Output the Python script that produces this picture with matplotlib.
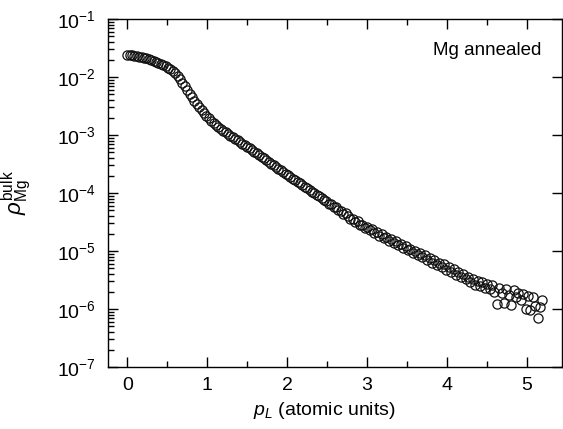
import numpy as np
import matplotlib
matplotlib.use('agg')
import matplotlib.pyplot as plt
from matplotlib.ticker import LogLocator, MultipleLocator, NullFormatter, LogFormatterSciNotation

plt.rcParams['font.family'] = 'Liberation Sans'
plt.rcParams['mathtext.fontset'] = 'custom'
plt.rcParams['mathtext.rm'] = 'Liberation Sans'
plt.rcParams['mathtext.it'] = 'Liberation Sans:italic'
plt.rcParams['mathtext.bf'] = 'Liberation Sans:bold'

# momentum p_L (a.u.)
p_L = [
    0.00, 0.03, 0.06, 0.09, 0.12, 0.15, 0.18, 0.21, 0.24, 0.27, 0.30, 0.33, 0.36, 0.39, 0.42, 0.45, 0.48, 0.51,
    0.54, 0.57, 0.60, 0.63, 0.66, 0.69, 0.72, 0.75, 0.78, 0.81, 0.84, 0.87, 0.90, 0.93, 0.96, 0.99, 1.02, 1.05,
    1.08, 1.11, 1.14, 1.17, 1.20, 1.23, 1.26, 1.29, 1.32, 1.35, 1.38, 1.41, 1.44, 1.47, 1.50, 1.53, 1.56, 1.59,
    1.62, 1.65, 1.68, 1.71, 1.74, 1.77, 1.80, 1.83, 1.86, 1.89, 1.92, 1.95, 1.98, 2.01, 2.04, 2.07, 2.10, 2.13,
    2.16, 2.19, 2.22, 2.25, 2.28, 2.31, 2.34, 2.37, 2.40, 2.43, 2.46, 2.49, 2.52, 2.55, 2.58, 2.61, 2.64, 2.67,
    2.70, 2.73, 2.76, 2.79, 2.82, 2.85, 2.88, 2.91, 2.94, 2.97, 3.00, 3.03, 3.06, 3.09, 3.12, 3.15, 3.18, 3.21,
    3.24, 3.27, 3.30, 3.33, 3.36, 3.39, 3.42, 3.45, 3.48, 3.51, 3.54, 3.57, 3.60, 3.63, 3.66, 3.69, 3.72, 3.75,
    3.78, 3.81, 3.84, 3.87, 3.90, 3.93, 3.96, 3.99, 4.02, 4.05, 4.08, 4.11, 4.14, 4.17, 4.20, 4.23, 4.26, 4.29,
    4.32, 4.35, 4.38, 4.41, 4.44, 4.47, 4.50, 4.53, 4.56, 4.59, 4.62, 4.65, 4.68, 4.71, 4.74, 4.77, 4.80, 4.83,
    4.86, 4.89, 4.92, 4.95, 4.98, 5.01, 5.04, 5.07, 5.10, 5.13, 5.16, 5.19,
]

# log10 of rho_Mg^bulk
log_rho = [
    -1.620, -1.624, -1.628, -1.634, -1.641, -1.649, -1.659, -1.669, -1.681, -1.694, -1.708, -1.723, -1.739, -1.756, -1.775, -1.795, -1.816, -1.838,
    -1.862, -1.892, -1.930, -1.975, -2.030, -2.095, -2.160, -2.225, -2.288, -2.350, -2.410, -2.468, -2.524, -2.576, -2.624, -2.668, -2.710, -2.750,
    -2.788, -2.824, -2.858, -2.890, -2.925, -2.955, -2.984, -3.012, -3.040, -3.067, -3.094, -3.121, -3.147, -3.173, -3.200, -3.229, -3.259, -3.288,
    -3.317, -3.347, -3.376, -3.405, -3.435, -3.464, -3.493, -3.523, -3.552, -3.581, -3.611, -3.640, -3.668, -3.696, -3.724, -3.752, -3.780, -3.808,
    -3.836, -3.864, -3.892, -3.920, -3.948, -3.976, -4.004, -4.032, -4.060, -4.080, -4.125, -4.140, -4.185, -4.190, -4.240, -4.245, -4.300, -4.305,
    -4.360, -4.350, -4.405, -4.445, -4.440, -4.500, -4.490, -4.560, -4.545, -4.600, -4.590, -4.640, -4.620, -4.690, -4.670, -4.735, -4.700, -4.770,
    -4.760, -4.820, -4.800, -4.860, -4.835, -4.900, -4.885, -4.950, -4.920, -4.990, -4.960, -5.030, -4.995, -5.070, -5.040, -5.110, -5.075, -5.160,
    -5.120, -5.200, -5.150, -5.245, -5.205, -5.280, -5.230, -5.320, -5.280, -5.370, -5.310, -5.410, -5.360, -5.450, -5.400, -5.490, -5.440, -5.535,
    -5.480, -5.580, -5.510, -5.600, -5.540, -5.630, -5.570, -5.660, -5.590, -5.700, -5.910, -5.640, -5.720, -5.900, -5.650, -5.760, -5.930, -5.680,
    -5.800, -5.720, -5.850, -5.740, -6.000, -5.780, -6.020, -5.800, -5.950, -6.160, -5.970, -5.840,
]

rho = 10.0 ** np.array(log_rho)

fig = plt.figure(figsize=(5.63, 4.29), dpi=100)
ax = fig.add_axes([108 / 563, 1 - 367 / 429, 453.5 / 563, 348 / 429])

ax.plot(p_L, rho, linestyle='none', marker='o', markersize=6.6,
        markerfacecolor='none', markeredgecolor='#111111', markeredgewidth=0.9)

ax.set_yscale('log')
ax.set_ylim(1e-7, 1e-1)
ax.set_xlim(-0.24, 5.43)

ax.xaxis.set_major_locator(MultipleLocator(1))
ax.xaxis.set_minor_locator(MultipleLocator(0.5))
ax.yaxis.set_major_locator(LogLocator(base=10, numticks=10))
ax.yaxis.set_minor_locator(LogLocator(base=10, subs=np.arange(2, 10), numticks=20))
ax.yaxis.set_major_formatter(LogFormatterSciNotation())
ax.yaxis.set_minor_formatter(NullFormatter())

ax.tick_params(which='both', direction='in', top=True, right=True, labelsize=14, width=1)
ax.tick_params(which='major', length=7)
ax.tick_params(which='minor', length=4, right=False)
ax.tick_params(axis='y', which='major', pad=9)
ax.tick_params(axis='x', which='major', pad=7)
for s in ax.spines.values():
    s.set_linewidth(1)

ax.set_xlabel(r'$p_L$ (atomic units)', fontsize=14)
ax.xaxis.set_label_coords(0.476, -0.095)
ax.set_ylabel(r'$\rho^{\mathrm{bulk}}_{\mathrm{Mg}}$', fontsize=16)
ax.yaxis.set_label_coords(-0.165, 0.5)

ax.text(0.955, 0.91, 'Mg annealed', transform=ax.transAxes, ha='right', va='center', fontsize=13.5)

plt.savefig('out.png', dpi=100)
